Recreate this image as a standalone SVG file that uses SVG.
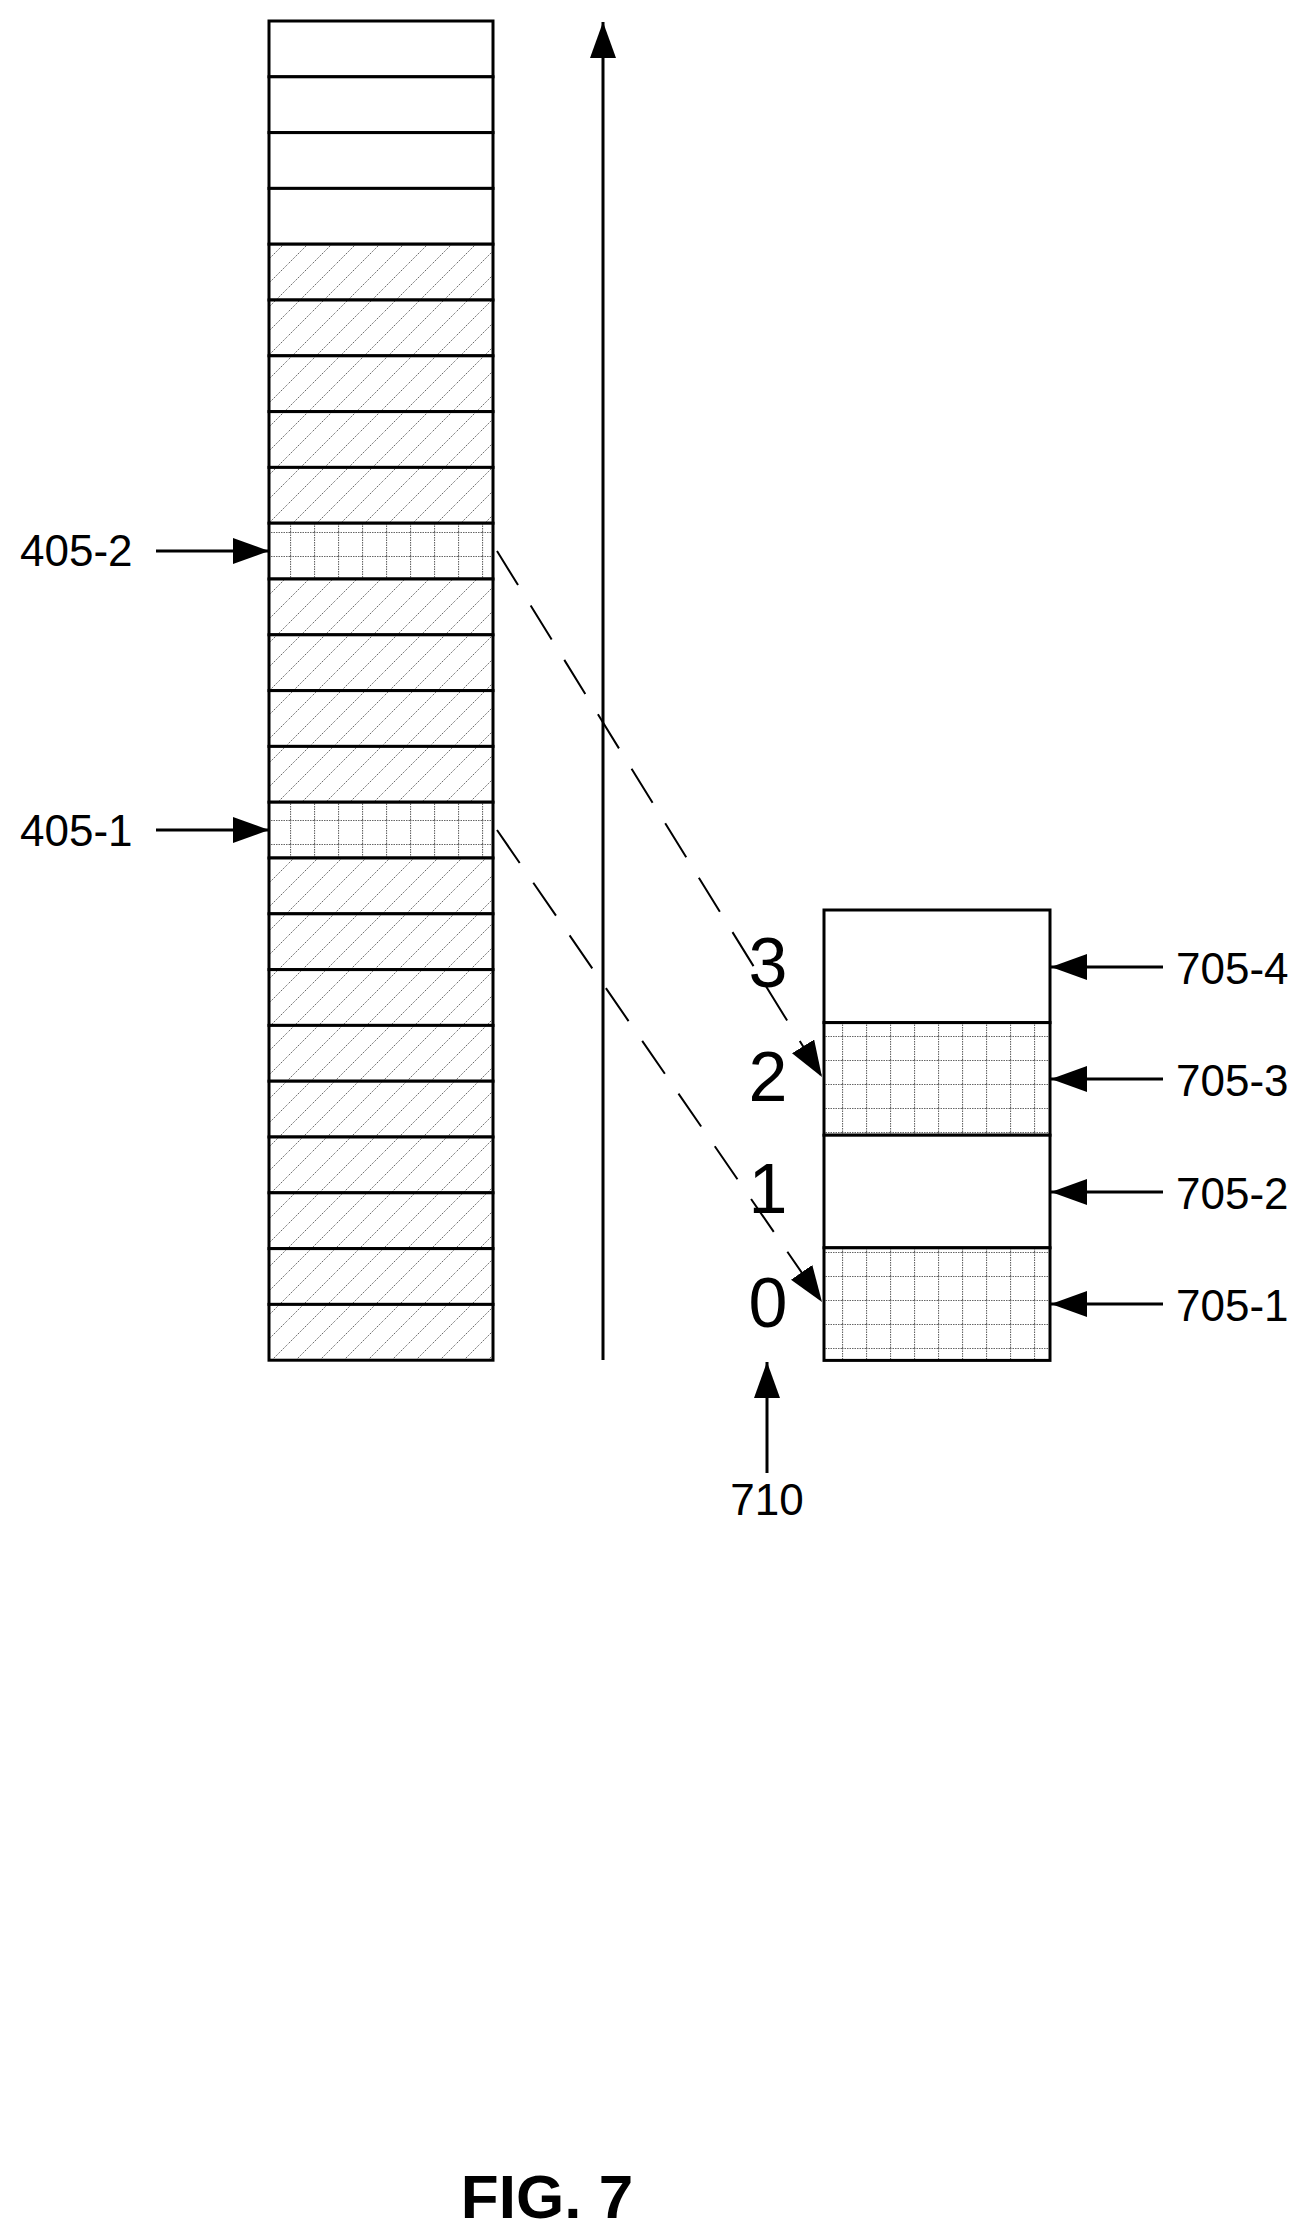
<svg xmlns="http://www.w3.org/2000/svg" width="1310" height="2230" viewBox="0 0 1310 2230">
<style>
.box{stroke:#000;stroke-width:3}
.w{fill:#fff}
.h{fill:url(#hatch)}
.g{fill:url(#grid)}
.t{font-family:"Liberation Sans",Arial,sans-serif;fill:#000}
.lbl{font-size:44px}
.num{font-size:70px}
.ln{stroke:#000;stroke-width:3;fill:none}
.dash{stroke:#000;stroke-width:2;fill:none;stroke-dasharray:40 24}
</style>
<defs>
<pattern id="hatch" patternUnits="userSpaceOnUse" width="24" height="24">
<rect width="24" height="24" fill="#fff"/>
<path d="M-6,30 L30,-6 M-6,6 L6,-6 M18,30 L30,18" stroke="#666" stroke-width="1" stroke-dasharray="1.5 1"/>
</pattern>
<pattern id="grid" patternUnits="userSpaceOnUse" width="24" height="24" x="2" y="4">
<rect width="24" height="24" fill="#fff"/>
<path d="M0,0.5 H24 M0.5,0 V24" stroke="#666" stroke-width="1.2" stroke-dasharray="1.5 1"/>
</pattern>
<marker id="ah" markerUnits="userSpaceOnUse" markerWidth="36" markerHeight="26" refX="36" refY="13" orient="auto">
<path d="M0,0 L36,13 L0,26 Z" fill="#000"/>
</marker>
</defs>
<g id="memory-column">
<rect class="box w" x="269" y="21" width="224" height="55.8"/>
<rect class="box w" x="269" y="76.8" width="224" height="55.8"/>
<rect class="box w" x="269" y="132.6" width="224" height="55.8"/>
<rect class="box w" x="269" y="188.4" width="224" height="55.8"/>
<rect class="box h" x="269" y="244.2" width="224" height="55.8"/>
<rect class="box h" x="269" y="300" width="224" height="55.8"/>
<rect class="box h" x="269" y="355.8" width="224" height="55.8"/>
<rect class="box h" x="269" y="411.6" width="224" height="55.8"/>
<rect class="box h" x="269" y="467.4" width="224" height="55.8"/>
<rect class="box g" x="269" y="523.2" width="224" height="55.8"/>
<rect class="box h" x="269" y="579" width="224" height="55.8"/>
<rect class="box h" x="269" y="634.8" width="224" height="55.8"/>
<rect class="box h" x="269" y="690.6" width="224" height="55.8"/>
<rect class="box h" x="269" y="746.4" width="224" height="55.8"/>
<rect class="box g" x="269" y="802.2" width="224" height="55.8"/>
<rect class="box h" x="269" y="858" width="224" height="55.8"/>
<rect class="box h" x="269" y="913.8" width="224" height="55.8"/>
<rect class="box h" x="269" y="969.6" width="224" height="55.8"/>
<rect class="box h" x="269" y="1025.4" width="224" height="55.8"/>
<rect class="box h" x="269" y="1081.2" width="224" height="55.8"/>
<rect class="box h" x="269" y="1137" width="224" height="55.8"/>
<rect class="box h" x="269" y="1192.8" width="224" height="55.8"/>
<rect class="box h" x="269" y="1248.6" width="224" height="55.8"/>
<rect class="box h" x="269" y="1304.4" width="224" height="55.8"/>
</g>
<g id="buffer">
<rect class="box w" x="824" y="910" width="226" height="112.6"/>
<rect class="box g" x="824" y="1022.6" width="226" height="112.6"/>
<rect class="box w" x="824" y="1135.2" width="226" height="112.6"/>
<rect class="box g" x="824" y="1247.8" width="226" height="112.6"/>
</g>
<g id="labels">
<text class="t lbl" x="20" y="566">405-2</text>
<text class="t lbl" x="20" y="846">405-1</text>
<text class="t lbl" x="1176" y="984">705-4</text>
<text class="t lbl" x="1176" y="1096">705-3</text>
<text class="t lbl" x="1176" y="1209">705-2</text>
<text class="t lbl" x="1176" y="1321">705-1</text>
<text class="t lbl" x="767" y="1515" text-anchor="middle">710</text>
<text class="t num" x="768" y="987" text-anchor="middle">3</text>
<text class="t num" x="768" y="1101" text-anchor="middle">2</text>
<text class="t num" x="768" y="1213" text-anchor="middle">1</text>
<text class="t num" x="768" y="1327" text-anchor="middle">0</text>
<text class="t" x="547" y="2218" text-anchor="middle" font-size="62" font-weight="bold">FIG. 7</text>
</g>
<g id="connectors">
<line class="ln" x1="603" y1="1360" x2="603" y2="22" marker-end="url(#ah)"/>
<line class="ln" x1="156" y1="551" x2="269" y2="551" marker-end="url(#ah)"/>
<line class="ln" x1="156" y1="830" x2="269" y2="830" marker-end="url(#ah)"/>
<line class="ln" x1="1163" y1="967" x2="1051" y2="967" marker-end="url(#ah)"/>
<line class="ln" x1="1163" y1="1079" x2="1051" y2="1079" marker-end="url(#ah)"/>
<line class="ln" x1="1163" y1="1192" x2="1051" y2="1192" marker-end="url(#ah)"/>
<line class="ln" x1="1163" y1="1304" x2="1051" y2="1304" marker-end="url(#ah)"/>
<line class="ln" x1="767" y1="1473" x2="767" y2="1362" marker-end="url(#ah)"/>
<line class="dash" x1="497" y1="551" x2="822" y2="1077" marker-end="url(#ah)"/>
<line class="dash" x1="497" y1="830" x2="822" y2="1302" marker-end="url(#ah)"/>
</g>
</svg>
